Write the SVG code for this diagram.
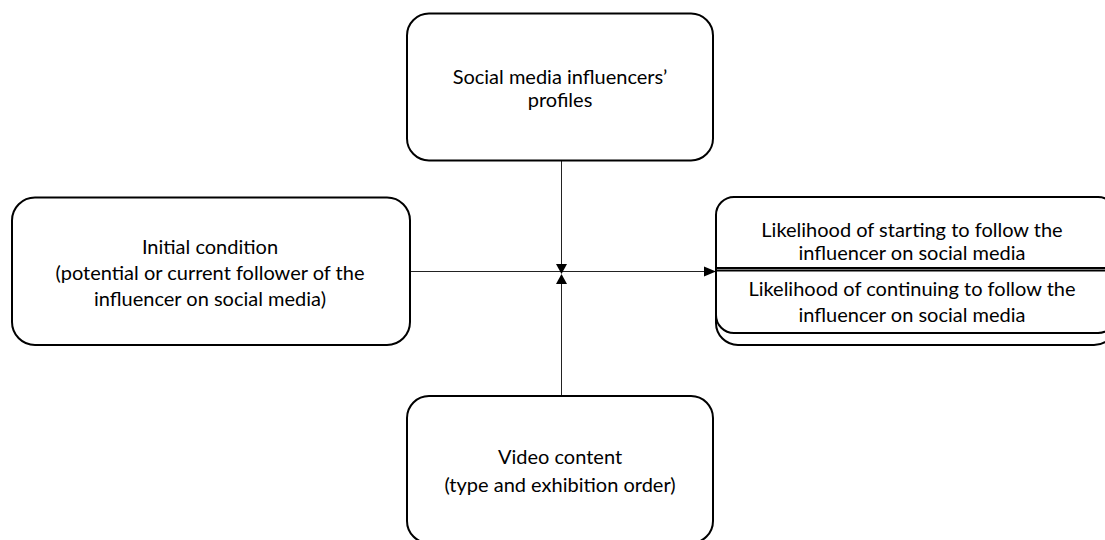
<svg xmlns="http://www.w3.org/2000/svg" width="1105" height="540" viewBox="0 0 1105 540">
<style>
.box{fill:#fff;stroke:#000;stroke-width:2}
.ln{fill:none;stroke:#000;stroke-width:2}
.cn{fill:none;stroke:#222;stroke-width:1}
.ah{fill:#000}
text{font-family:Lato,"Liberation Sans",sans-serif;font-size:20px;fill:#000;text-anchor:middle}
</style>
<rect width="1105" height="540" fill="#fff"/>
<g id="connectors">
<line class="cn" x1="561.5" y1="161" x2="561.5" y2="265"/>
<line class="cn" x1="561.5" y1="396" x2="561.5" y2="283"/>
<line class="cn" x1="410" y1="271.5" x2="705" y2="271.5"/>
<polygon class="ah" points="556,264 567,264 561.5,274"/>
<polygon class="ah" points="556,284 567,284 561.5,274"/>
<polygon class="ah" points="704,266.5 716,271.5 704,276.5"/>
</g>
<g id="node-profiles">
<rect class="box" x="407" y="13.5" width="306" height="147" rx="22"/>
<text x="560" y="84">Social media influencers’</text>
<text x="560" y="107">profiles</text>
</g>
<g id="node-initial">
<rect class="box" x="12" y="197.5" width="398" height="147.5" rx="23"/>
<text x="210" y="254">Initial condition</text>
<text x="210" y="280">(potential or current follower of the</text>
<text x="210" y="306">influencer on social media)</text>
</g>
<g id="node-likelihood">
<rect class="box" x="716" y="199.5" width="400" height="145.5" rx="22"/>
<rect class="box" x="716" y="197" width="400" height="136" rx="18"/>
<line class="ln" x1="717" y1="268" x2="1105" y2="268"/>
<line class="ln" x1="717" y1="270.5" x2="1105" y2="270.5"/>
<text x="912" y="237">Likelihood of starting to follow the</text>
<text x="912" y="260">influencer on social media</text>
<text x="912" y="296">Likelihood of continuing to follow the</text>
<text x="912" y="322">influencer on social media</text>
</g>
<g id="node-video">
<rect class="box" x="407" y="396" width="306" height="147" rx="22"/>
<text x="560" y="464">Video content</text>
<text x="560" y="492">(type and exhibition order)</text>
</g>
</svg>
